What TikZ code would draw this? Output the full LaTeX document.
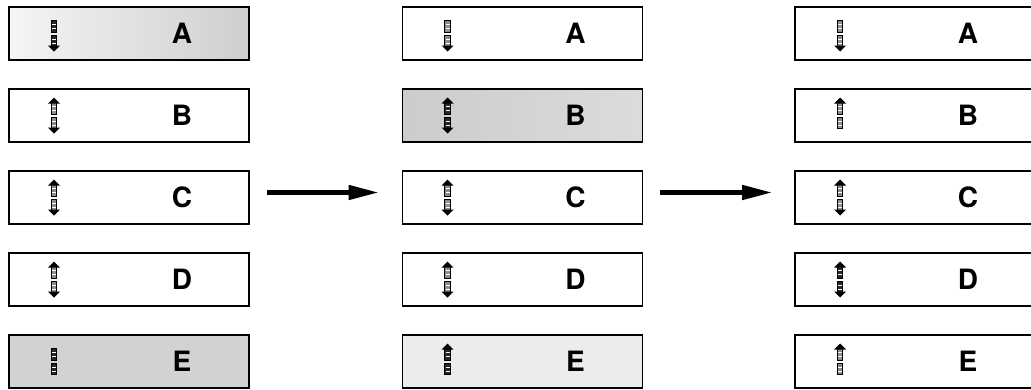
\documentclass[tikz,border=0pt]{standalone}
\usepackage{fontspec}
\setmainfont{TeX Gyre Heros}
\usetikzlibrary{arrows.meta}
\tikzset{
  box/.style={draw=black, line width=1.6pt, minimum width=240pt, minimum height=53pt, inner sep=0pt},
  letter/.style={font=\fontsize{28}{28}\selectfont\bfseries, inner sep=0pt},
  flow/.style={line width=4.5pt, -{Triangle[length=30pt,width=14pt]}},
  spinseg/.style={draw=black, line width=0.9pt, fill=black!45},
  heavy/.style={spinseg/.style={draw=black, line width=0.9pt, fill=black!85}},
  spinhead/.style={fill=black},
  pics/spin/.style 2 args={code={
    \foreach \s/\h in {1/#1,-1/#2}{
      \begin{scope}[yscale=\s]
        \path[spinseg] (-2.8,-1.5) rectangle (2.8,-13);
        \draw[line width=0.6pt, white] (-2,-5.5) -- (2,-5.5) (-2,-9.5) -- (2,-9.5);
        \ifnum\h=1 \path[spinhead] (-6,-12) -- (0,-18) -- (6,-12) -- cycle;\fi
      \end{scope}
    }
  }}
}
\begin{document}
\begin{tikzpicture}[x=1pt,y=-1pt]
\useasboundingbox (0,0) rectangle (1031,389);
% column 1
\node[box, left color=gray!8, right color=gray!38] (a1) at (129,33.5) {};
\node[box] (b1) at (129,115.5) {};
\node[box] (c1) at (129,197.5) {};
\node[box] (d1) at (129,279.5) {};
\node[box, fill=gray!35] (e1) at (129,361.5) {};
% column 2
\node[box] (a2) at (522.5,33.5) {};
\node[box, left color=gray!40, right color=gray!28] (b2) at (522.5,115.5) {};
\node[box] (c2) at (522.5,197.5) {};
\node[box] (d2) at (522.5,279.5) {};
\node[box, fill=gray!15] (e2) at (522.5,361.5) {};
% column 3
\node[box] (a3) at (915,33.5) {};
\node[box] (b3) at (915,115.5) {};
\node[box] (c3) at (915,197.5) {};
\node[box] (d3) at (915,279.5) {};
\node[box] (e3) at (915,361.5) {};
% letters
\foreach \c in {1,2,3}{
  \node[letter] (la\c) at ([xshift=53pt]a\c.center) {A};
  \node[letter] (lb\c) at ([xshift=53pt]b\c.center) {B};
  \node[letter] (lc\c) at ([xshift=53pt]c\c.center) {C};
  \node[letter] (ld\c) at ([xshift=53pt]d\c.center) {D};
  \node[letter] (le\c) at ([xshift=53pt]e\c.center) {E};
}
% spin icons
\pic[heavy] at ([xshift=-75pt]a1.center) {spin={0}{1}};
\pic at ([xshift=-75pt]b1.center) {spin={1}{1}};
\pic at ([xshift=-75pt]c1.center) {spin={1}{1}};
\pic at ([xshift=-75pt]d1.center) {spin={1}{1}};
\pic[heavy] at ([xshift=-75pt]e1.center) {spin={0}{0}};
\pic at ([xshift=-75pt]a2.center) {spin={0}{1}};
\pic[heavy] at ([xshift=-75pt]b2.center) {spin={1}{1}};
\pic at ([xshift=-75pt]c2.center) {spin={1}{1}};
\pic at ([xshift=-75pt]d2.center) {spin={1}{1}};
\pic[heavy] at ([xshift=-75pt]e2.center) {spin={1}{0}};
\pic at ([xshift=-75pt]a3.center) {spin={0}{1}};
\pic at ([xshift=-75pt]b3.center) {spin={1}{0}};
\pic at ([xshift=-75pt]c3.center) {spin={1}{1}};
\pic[heavy] at ([xshift=-75pt]d3.center) {spin={1}{1}};
\pic at ([xshift=-75pt]e3.center) {spin={1}{0}};
% arrows
\draw[flow, shorten <=17pt, shorten >=23pt] ([yshift=5pt]c1.east) -- ([yshift=5pt]c2.west);
\draw[flow, shorten <=17pt, shorten >=22pt] ([yshift=5pt]c2.east) -- ([yshift=5pt]c3.west);
\end{tikzpicture}
\end{document}
